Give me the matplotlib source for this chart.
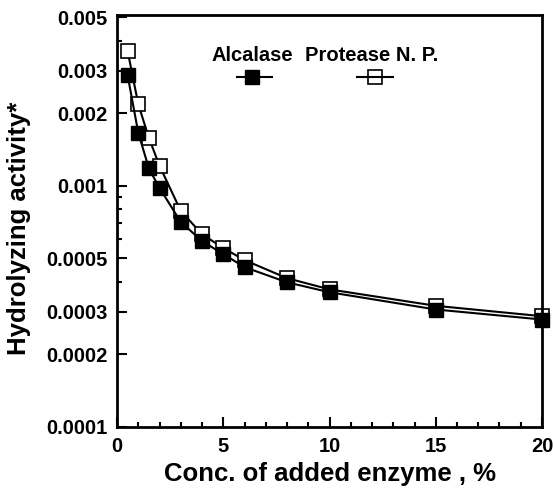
import matplotlib.pyplot as plt
from matplotlib.ticker import FixedLocator, FixedFormatter, MultipleLocator

plt.rcParams['font.family'] = ['Liberation Sans', 'DejaVu Sans']
plt.rcParams['font.weight'] = 'bold'

# enzyme concentration (%)
conc = [0.5, 1, 1.5, 2, 3, 4, 5, 6, 8, 10, 15, 20]
alcalase = [0.00287, 0.00166, 0.00118, 0.00098, 0.000708, 0.00059,
            0.000521, 0.00046, 0.000398, 0.000362, 0.000307, 0.000279]
protease_np = [0.00362, 0.00218, 0.00158, 0.00121, 0.000787, 0.00063,
               0.000552, 0.000492, 0.000414, 0.000372, 0.000318, 0.000288]

yticks = [0.0001, 0.0002, 0.0003, 0.0005, 0.001, 0.002, 0.003, 0.005]
ytick_labels = ["0.0001", "0.0002", "0.0003", "0.0005", "0.001", "0.002", "0.003", "0.005"]
yminor = [0.0004, 0.0006, 0.0007, 0.0008, 0.0009, 0.004]

fig = plt.figure(figsize=(5.53, 4.88), dpi=100)
ax = fig.add_axes([0.2116, 0.125, 0.7685, 0.844])

ax.plot(conc, protease_np, color='black', lw=1.5, marker='s', ms=10.5,
        mfc='white', mec='black', mew=1.2, zorder=2, clip_on=False)
ax.plot(conc, alcalase, color='black', lw=1.5, marker='s', ms=10.5,
        mfc='black', mec='black', zorder=3, clip_on=False)

ax.set_yscale('log')
ax.set_xlim(0, 20)
ax.set_ylim(0.0001, 0.0051)
ax.yaxis.set_major_locator(FixedLocator(yticks))
ax.yaxis.set_major_formatter(FixedFormatter(ytick_labels))
ax.yaxis.set_minor_locator(FixedLocator(yminor))
ax.yaxis.set_minor_formatter(FixedFormatter([]))
ax.xaxis.set_major_locator(MultipleLocator(5))
ax.xaxis.set_minor_locator(MultipleLocator(1))

ax.tick_params(which='both', direction='in', top=False, right=False,
               labelsize=14.5, width=1.5)
ax.tick_params(which='major', length=7)
ax.tick_params(which='minor', length=3.5)
ax.tick_params(axis='y', which='major', pad=7)
ax.tick_params(axis='x', which='major', pad=7)
for lab in ax.get_xticklabels() + ax.get_yticklabels():
    lab.set_fontweight('bold')
for sp in ax.spines.values():
    sp.set_linewidth(2)

ax.set_xlabel("Conc. of added enzyme , %", fontsize=18.5, fontweight='bold')
ax.set_ylabel("Hydrolyzing activity*", fontsize=18.5, fontweight='bold')
ax.xaxis.set_label_coords(0.501, -0.085)
ax.yaxis.set_label_coords(-0.203, 0.483)

# legend: labels above markers
ax.text(0.2235, 0.903, "Alcalase", transform=ax.transAxes, fontsize=14.5,
        fontweight='bold', va='center')
ax.text(0.442, 0.903, "Protease N. P.", transform=ax.transAxes, fontsize=14.5,
        fontweight='bold', va='center')
ax.plot([0.282, 0.365], [0.8495, 0.8495], transform=ax.transAxes, color='black', lw=1.5)
ax.plot([0.318], [0.8495], transform=ax.transAxes, marker='s', ms=10.5, color='black')
ax.plot([0.565, 0.649], [0.8495, 0.8495], transform=ax.transAxes, color='black', lw=1.5)
ax.plot([0.607], [0.8495], transform=ax.transAxes, marker='s', ms=9.5,
        mfc='none', mec='black', mew=1.2)

fig.savefig("out.png", dpi=100)
